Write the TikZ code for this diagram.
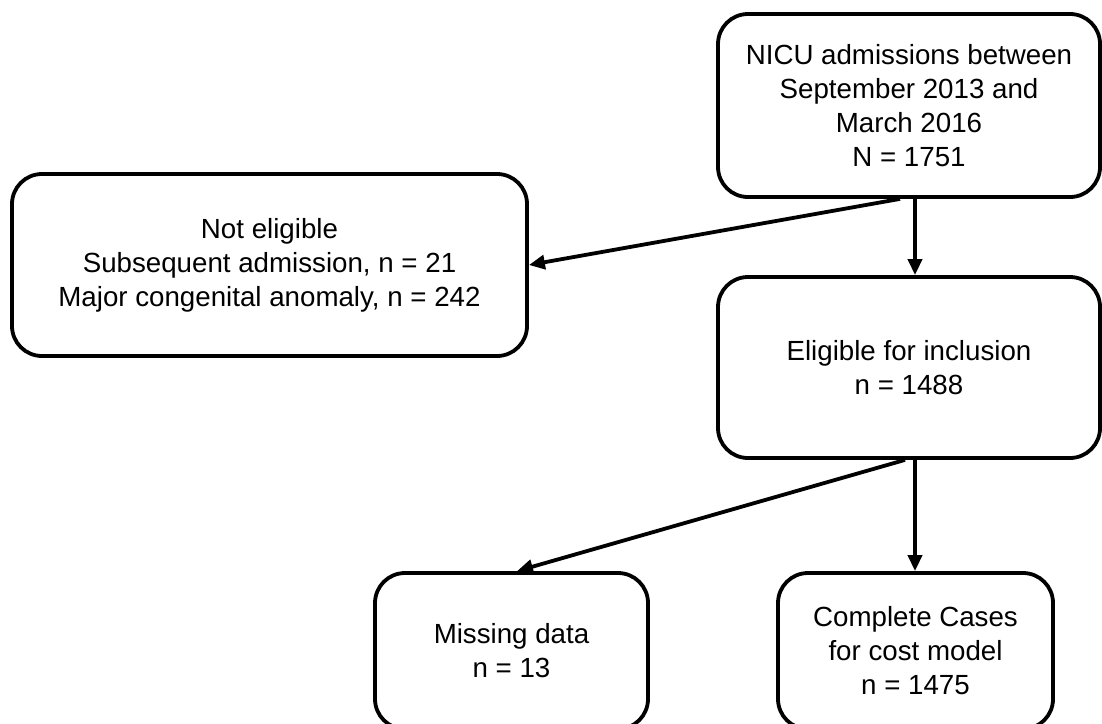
\documentclass[tikz,border=0pt]{standalone}
\usepackage{fontspec}
\setmainfont{Liberation Sans}
\usetikzlibrary{arrows.meta}
\begin{document}
\begin{tikzpicture}[x=1pt,y=-1pt,
  flowbox/.style={draw=black, line width=3.8pt, rounded corners=30pt, fill=white,
    align=center, inner sep=0pt, font=\fontsize{27.7}{34}\selectfont},
  flowarrow/.style={line width=3.8pt, -{Triangle[length=16pt,width=14pt]}}]
  \useasboundingbox (0,0) rectangle (1102,723);
  \clip (0,0) rectangle (1102,723);

  % boxes
  \node[flowbox, minimum width=382pt, minimum height=183pt] (top) at (909,105.5)
    {NICU admissions between\\September 2013 and\\March 2016\\N = 1751};
  \node[flowbox, minimum width=515pt, minimum height=182pt] (excl) at (269.5,265)
    {Not eligible\\Subsequent admission, n = 21\\Major congenital anomaly, n = 242};
  \node[flowbox, minimum width=382pt, minimum height=181pt] (elig) at (909,367.5)
    {Eligible for inclusion\\n = 1488};
  \node[flowbox, minimum width=273pt, minimum height=156pt] (miss) at (511.5,651)
    {Missing data\\n = 13};
  \node[flowbox, minimum width=275pt, minimum height=156pt] (comp) at (915.5,651)
    {Complete Cases\\for cost model\\n = 1475};

  % connectors
  \draw[flowarrow] ([xshift=6pt]top.south) -- ([xshift=6pt]elig.north);
  \draw[flowarrow] ([xshift=-9pt]top.south) -- (excl.east);
  \draw[flowarrow] ([xshift=-4pt]elig.south) -- ([xshift=5.5pt]miss.north);
  \draw[flowarrow] ([xshift=6pt]elig.south) -- ([xshift=6pt]elig.south |- comp.north);
\end{tikzpicture}
\end{document}
